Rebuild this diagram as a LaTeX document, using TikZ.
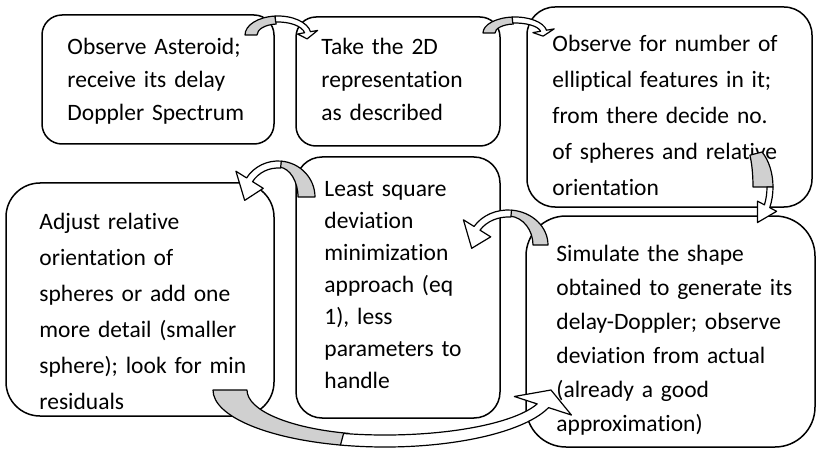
\documentclass[tikz,border=0pt]{standalone}
\usepackage{fontspec}
\setmainfont{Carlito}[Ligatures=NoCommon]
\usetikzlibrary{calc}
\definecolor{foldgrey}{RGB}{208,208,208}
\tikzset{
  flowbox/.style={draw=black,fill=white,line width=1.5pt,inner sep=0pt},
  boxtext/.style={anchor=base west,align=left,inner sep=0pt,text width=320pt,font=\fontsize{23.5}{#1}\selectfont},
  arrowback/.style={draw=black,fill=foldgrey,line width=1.2pt,line join=round},
  arrowfront/.style={draw=black,fill=white,line width=1.2pt,line join=round},
  bent start/.store in=\bentstart, bent start=180,
  bent wing/.store in=\bentwing, bent wing=1
}
% curved block arrow: #1 options, #2 #3 radii, #4 #5 cut of the grey band,
% #6 white band, #7 fold angle, #8 head angle, #9 tip angle
\newcommand{\bentarrow}[9]{%
\begin{scope}[#1]
 \pgfmathsetmacro{\rxin}{#2-#4}\pgfmathsetmacro{\ryin}{#3-#5}
 \pgfmathsetmacro{\rxf}{#2-#6}\pgfmathsetmacro{\ryf}{#3-#6}
 \pgfmathsetmacro{\rxo}{#2+\bentwing*#6}\pgfmathsetmacro{\ryo}{#3+\bentwing*#6}
 \pgfmathsetmacro{\rxm}{#2-#6/2}\pgfmathsetmacro{\rym}{#3-#6/2}
 \pgfmathsetmacro{\rxw}{#2-#6-\bentwing*#6}\pgfmathsetmacro{\ryw}{#3-#6-\bentwing*#6}
 \path[arrowback] ({#2*cos(\bentstart)},{#3*sin(\bentstart)})
   arc[start angle=\bentstart,end angle=#7,x radius=#2,y radius=#3]
   -- ({\rxin*cos(#7)},{\ryin*sin(#7)})
   arc[start angle=#7,end angle=\bentstart,x radius=\rxin,y radius=\ryin] -- cycle;
 \path[arrowfront] ({#2*cos(#7)},{#3*sin(#7)})
   arc[start angle=#7,end angle=#8,x radius=#2,y radius=#3]
   -- ({\rxo*cos(#8)},{\ryo*sin(#8)}) -- ({\rxm*cos(#9)},{\rym*sin(#9)})
   -- ({\rxw*cos(#8)},{\ryw*sin(#8)}) -- ({\rxf*cos(#8)},{\ryf*sin(#8)})
   arc[start angle=#8,end angle=#7,x radius=\rxf,y radius=\ryf] -- cycle;
\end{scope}}

\begin{document}
\begin{tikzpicture}[x=1pt,y=1pt]
\useasboundingbox (0,0) rectangle (817,448);
\fill[white] (0,0) rectangle (817,448);

% boxes
\node[flowbox,minimum width=232pt,minimum height=129pt,rounded corners=20pt] (b1) at (158,368.5) {};
\node[flowbox,minimum width=204pt,minimum height=129pt,rounded corners=20pt] (b2) at (398,366.5) {};
\node[flowbox,minimum width=285pt,minimum height=200pt,rounded corners=28pt] (b3) at (669.5,341) {};
\node[flowbox,minimum width=204pt,minimum height=261pt,rounded corners=26pt] (b4) at (398,160.5) {};
\node[flowbox,minimum width=268pt,minimum height=233pt,rounded corners=34pt] (b5) at (140,148.5) {};
\node[flowbox,minimum width=289pt,minimum height=231pt,rounded corners=40pt] (b6) at (670.5,116.5) {};

% texts
\node[boxtext=33pt] (t1) at ($(b1.north west)+(26,-40)$) {Observe Asteroid;\\receive its delay\\Doppler Spectrum};
\node[boxtext=33pt] (t2) at ($(b2.north west)+(26,-38)$) {Take the 2D\\representation\\as described};
\node[boxtext=36pt] (t3) at ($(b3.north west)+(26,-45)$) {Observe for number of\\elliptical features in it;\\from there decide no.\\of spheres and relative\\orientation};
\node[boxtext=32pt] (t4) at ($(b4.north west)+(29,-40)$) {Least square\\deviation\\minimization\\approach (eq\\1), less\\parameters to\\handle};
\node[boxtext=36pt] (t5) at ($(b5.north west)+(34,-47)$) {Adjust relative\\orientation of\\spheres or add one\\more detail (smaller\\sphere); look for min\\residuals};
\node[boxtext=34pt] (t6) at ($(b6.north west)+(31,-46)$) {Simulate the shape\\obtained to generate its\\delay-Doppler; observe\\deviation from actual\\(already a good\\approximation)};

% curved arrows
\coordinate (ab12) at (278,413);
\bentarrow{shift={(ab12)},bent wing=1.2}{33}{19}{12}{8}{6}{95}{10}{-14}
\coordinate (ab23) at (515,415);
\bentarrow{shift={(ab23)},bent wing=1.3}{32}{16}{12}{7}{6}{95}{10}{-14}
\coordinate (ab36) at (745,261);
\bentarrow{shift={(ab36)},rotate=-90,bent start=142.7,bent wing=1.3}{44}{28}{4}{20}{6}{90}{62}{30}
\coordinate (ab64) at (508,203);
\bentarrow{shift={(ab64)},xscale=-1,bent wing=1.8}{40}{35}{15}{6}{7}{95}{32}{-6}
\coordinate (ab45) at (278,251);
\bentarrow{shift={(ab45)},xscale=-1,bent wing=1.8}{37}{36}{17}{6}{7}{95}{32}{-6}
\coordinate (ab56) at (385,58);
\bentarrow{shift={(ab56)},yscale=-1,bent wing=2}{172}{57}{34}{12}{12}{105}{18}{0}
\end{tikzpicture}
\end{document}
